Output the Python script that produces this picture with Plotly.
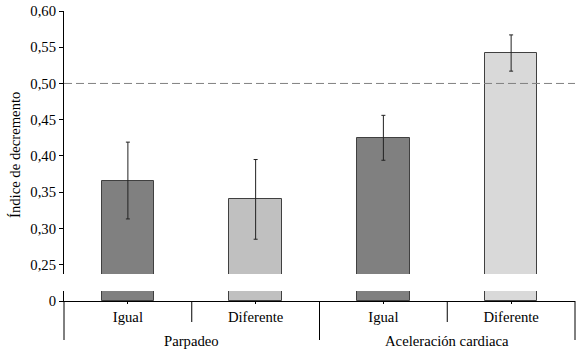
import plotly.graph_objects as go

# ---- data ----
groups = ["Parpadeo", "Aceleración cardiaca"]
conditions = ["Igual", "Diferente", "Igual", "Diferente"]
values = [0.366, 0.340, 0.425, 0.542]
errors = [0.053, 0.055, 0.031, 0.025]
bar_colors = ["#808080", "#c0c0c0", "#808080", "#d9d9d9"]
reference_value = 0.50
upper_ticks = [0.25, 0.30, 0.35, 0.40, 0.45, 0.50, 0.55, 0.60]
lower_ticks = [0]

xpos = list(range(len(values)))
FONT = "Liberation Serif, Times New Roman, serif"
FS = 14.7

fig = go.Figure()

# upper segment of broken axis
fig.add_trace(go.Bar(
    x=xpos, y=values, xaxis="x", yaxis="y",
    marker=dict(color=bar_colors, line=dict(color="#404040", width=1)),
    width=0.41,
    error_y=dict(type="data", array=errors, color="#222222", thickness=1, width=2),
    showlegend=False, hoverinfo="y",
))
# lower segment (near zero)
fig.add_trace(go.Bar(
    x=xpos, y=values, xaxis="x", yaxis="y2",
    marker=dict(color=bar_colors, line=dict(color="#404040", width=1)),
    width=0.41,
    showlegend=False, hoverinfo="skip",
))

H = 355
mt, mb = 11, 54
plot_h = H - mt - mb  # 290
upper_bottom = (301 - 274) / plot_h
lower_top = (301 - 291) / plot_h

fig.update_layout(
    width=583, height=355,
    margin=dict(l=64, r=8, t=mt, b=mb, autoexpand=False),
    paper_bgcolor="white", plot_bgcolor="white",
    separators=",.",
    font=dict(family=FONT, size=FS, color="#000000"),
    bargap=0,
    xaxis=dict(
        domain=[0, 1], anchor="y2", range=[-0.5, 3.5], automargin=False,
        tickmode="array", tickvals=xpos, ticktext=conditions,
        showline=True, linecolor="#000000", linewidth=1,
        ticks="outside", ticklen=2, tickcolor="#000000",
        showgrid=False, zeroline=False,
        tickfont=dict(family=FONT, size=FS),
    ),
    yaxis=dict(
        domain=[upper_bottom, 1], anchor="x", range=[0.237, 0.60], automargin=False,
        tickmode="array", tickvals=upper_ticks, tickformat=".2f",
        showline=True, linecolor="#000000", linewidth=1,
        ticks="outside", ticklen=4, tickcolor="#000000",
        showgrid=False, zeroline=False,
        tickfont=dict(family=FONT, size=FS),
    ),
    yaxis2=dict(
        domain=[0, lower_top], anchor="x", range=[0, 0.01], automargin=False,
        tickmode="array", tickvals=lower_ticks, ticktext=["0"],
        showline=True, linecolor="#000000", linewidth=1,
        ticks="outside", ticklen=4, tickcolor="#000000",
        showgrid=False, zeroline=False,
        tickfont=dict(family=FONT, size=FS),
    ),
)

# reference dashed line at 0.50
fig.add_shape(type="line", xref="paper", yref="y", x0=0, x1=1,
              y0=reference_value, y1=reference_value,
              line=dict(color="#808080", width=1, dash="8px,4px"))

# group separators below axis
sep_long_y = -(340 - 301) / plot_h
sep_short_y = -(322 - 301) / plot_h
fig.add_shape(type="line", xref="paper", yref="paper", x0=0, x1=0, y0=0, y1=sep_long_y,
              line=dict(color="#000000", width=1))
fig.add_shape(type="line", xref="paper", yref="paper", x0=1, x1=1, y0=0, y1=sep_long_y,
              line=dict(color="#000000", width=1))
fig.add_shape(type="line", xref="x", yref="paper", x0=1.5, x1=1.5, y0=0, y1=sep_long_y,
              line=dict(color="#000000", width=1))
for xb in [0.5, 2.5]:
    fig.add_shape(type="line", xref="x", yref="paper", x0=xb, x1=xb, y0=0, y1=sep_short_y,
                  line=dict(color="#000000", width=1))

# group labels
for gi, g in enumerate(groups):
    fig.add_annotation(text=g, xref="x", yref="paper", x=gi * 2 + 0.5,
                       y=-(341 - 301) / plot_h, yanchor="middle", showarrow=False,
                       font=dict(family=FONT, size=FS))

# y-axis title
fig.add_annotation(text="Índice de decremento", xref="paper", yref="paper",
                   x=0, xshift=-49, y=(301 - 155) / plot_h, textangle=-90,
                   xanchor="center", yanchor="middle", showarrow=False,
                   font=dict(family=FONT, size=FS))

fig.write_html("out.html", config={"displayModeBar": False},
               post_script="document.body.style.margin='0';")
